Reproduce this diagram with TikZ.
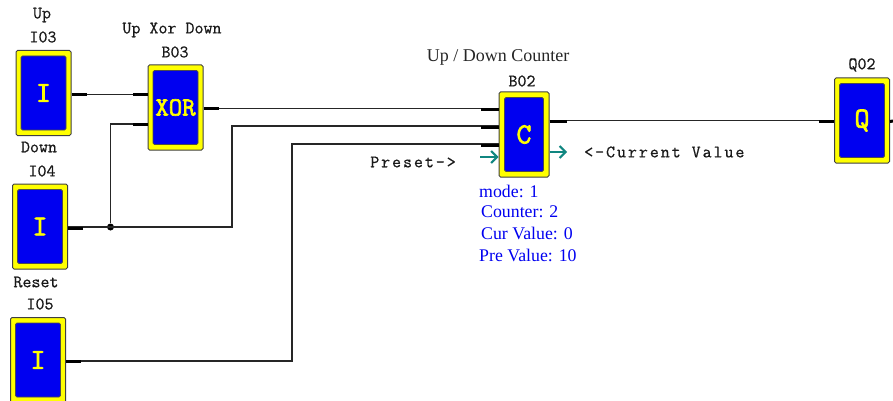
\documentclass[tikz,border=0pt]{standalone}
\usepackage{fontspec}
\setmainfont{Liberation Serif}
\newfontfamily\widemono[LetterSpace=11,FakeBold=0.6]{Latin Modern Mono}
\newfontfamily\tagmono[FakeBold=0.6]{Latin Modern Mono}
\newfontfamily\glyphmono[FakeBold=2.5]{Latin Modern Mono}
\usetikzlibrary{arrows.meta}
\definecolor{blockblue}{RGB}{0,0,240}
\definecolor{blockyellow}{RGB}{255,255,0}
\definecolor{portteal}{RGB}{16,134,128}
\begin{document}
\begin{tikzpicture}[
    x=1pt, y=-1pt,
    block/.style={draw=black!75, fill=blockyellow, line width=1pt, rounded corners=1.5pt, minimum width=55pt, minimum height=85pt, inner sep=0pt},
    narrow/.style={block, minimum width=50pt},
    core/.style={draw=black!70, fill=blockblue, line width=0.8pt, rounded corners=1.5pt, minimum width=45pt, minimum height=74pt, inner sep=0pt, text=blockyellow, font=\fontsize{29}{29}\glyphmono},
    narrowcore/.style={core, minimum width=39pt},
    tag/.style={font=\fontsize{17.5}{17.5}\tagmono, text=black!90, inner sep=0pt},
    widetag/.style={font=\fontsize{17.5}{17.5}\widemono, text=black!90, inner sep=0pt},
    title/.style={font=\fontsize{18}{18}\rmfamily, text=black!85, inner sep=0pt},
    info/.style={font=\fontsize{17.8}{17.8}\rmfamily, text=blockblue, inner sep=0pt, anchor=west},
    wire/.style={draw=black!85, line width=1.4pt},
    stub/.style={draw=black, line width=3pt},
    port/.style={draw=portteal, line width=2pt, -{Straight Barb[length=6pt,width=12pt]}},
]
    \useasboundingbox (0,0) rectangle (893,401);
    \clip (0,0) rectangle (893,401);

    % ============= Input blocks =============
    \node[block] (I03) at (43.5,93) {};
    \node[core] (I03core) at (I03) {I};
    \node[tag] (I03up) at (42,15) {Up};
    \node[tag] (I03name) at (43,37) {I03};

    \node[block] (I04) at (40,226.5) {};
    \node[core] (I04core) at (I04) {I};
    \node[tag] (I04down) at (39,147) {Down};
    \node[tag] (I04name) at (42,171) {I04};

    \node[block] (I05) at (38,360) {};
    \node[core] (I05core) at (I05) {I};
    \node[tag] (I05reset) at (36,282) {Reset};
    \node[tag] (I05name) at (40,304) {I05};

    % ============= Xor block =============
    \node[block] (B03) at (175.5,107.5) {};
    \node[core, font=\fontsize{26}{26}\glyphmono] (B03core) at (B03) {XOR};
    \node[tag] (B03title) at (172,30) {Up Xor Down};
    \node[tag] (B03name) at (175,52) {B03};

    % ============= Counter block =============
    \node[narrow] (B02) at (524,134.5) {};
    \node[narrowcore] (B02core) at (B02) {C};
    \node[title] (B02title) at (498,57) {Up / Down Counter};
    \node[tag] (B02name) at (522,81) {B02};
    \node[widetag] (preset) at (413,162) {Preset->};
    \node[widetag, anchor=west] (current) at (584,152) {<-Current Value};
    \node[info] (mode) at (479,191) {mode: 1};
    \node[info] (counter) at (481,212) {Counter: 2};
    \node[info] (curval) at (481,233) {Cur Value: 0};
    \node[info] (preval) at (479,255) {Pre Value: 10};

    % ============= Output block =============
    \node[block] (Q02) at (862,120.5) {};
    \node[core] (Q02core) at (Q02) {Q};
    \node[tag] (Q02name) at (862,65) {Q02};

    % Wires
    \coordinate (bendA) at (232,227);
    \coordinate (bendB) at (292,361);
    \coordinate (qOut) at (893,121);
    \coordinate (presetIn) at (480,157);
    \coordinate (currentOut) at (567,152);
    \node[circle, fill=black, inner sep=0pt, minimum size=7pt] (joint) at (110.5,227) {};

    \draw[wire] ([yshift=-1.5pt]I03.east) -- ([yshift=13pt]B03.west);
    \draw[wire] (joint) |- ([yshift=-16.5pt]B03.west);
    \draw[wire] ([yshift=-0.5pt]I04.east) -- (bendA) |- ([yshift=8.5pt]B02.west);
    \draw[wire] ([yshift=-1pt]I05.east) -- (bendB) |- ([yshift=-9.5pt]B02.west);
    \draw[wire] ([yshift=-1pt]B03.east) -- ([yshift=26pt]B02.west);
    \draw[wire] ([yshift=14pt]B02.east) -- (Q02.west);

    % Thick stubs at the ports
    \draw[stub] ([yshift=-2pt]I03.east) -- ++(15,0);
    \draw[stub] ([yshift=-2pt]I04.east) -- ++(15,0);
    \draw[stub] ([yshift=-1.5pt]I05.east) -- ++(15,0);
    \draw[stub] ([yshift=12.5pt]B03.west) -- ++(-15,0);
    \draw[stub] ([yshift=-17pt]B03.west) -- ++(-15,0);
    \draw[stub] ([yshift=-1.5pt]B03.east) -- ++(15,0);
    \draw[stub] ([yshift=25pt]B02.west) -- ++(-18,0);
    \draw[stub] ([yshift=7.5pt]B02.west) -- ++(-18,0);
    \draw[stub] ([yshift=-10.5pt]B02.west) -- ++(-18,0);
    \draw[stub] ([yshift=13.5pt]B02.east) -- ++(17,0);
    \draw[stub] ([yshift=-0.5pt]Q02.west) -- ++(-15,0);
    \draw[stub] ([yshift=-1pt]Q02.east) -- (qOut);

    % Teal value ports
    \draw[port] (presetIn) -- ([yshift=-22.5pt]B02.west);
    \draw[port] ([yshift=-17.5pt]B02.east) -- (currentOut);
\end{tikzpicture}
\end{document}
